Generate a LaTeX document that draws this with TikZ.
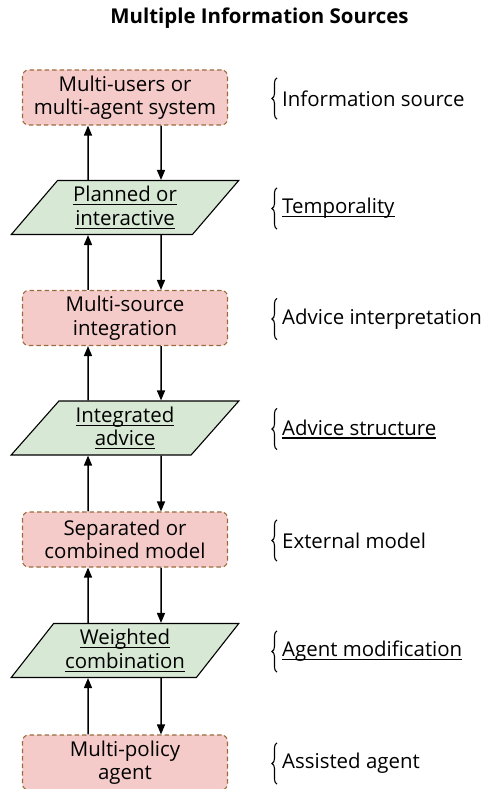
\documentclass[tikz,border=0pt]{standalone}
\usepackage{fontspec}
\setmainfont{Open Sans}
\usepackage{tikz}
\usetikzlibrary{arrows.meta,shapes.geometric,decorations.pathreplacing}

\definecolor{boxfill}{HTML}{F5CBCA}
\definecolor{boxline}{HTML}{9C6A3C}
\definecolor{parafill}{HTML}{D7E8D4}

% underline close to the baseline
\newcommand\ulx[1]{\setbox0\hbox{#1}\rlap{\rule[-3.5bp]{\wd0}{1.2bp}}\box0}

\tikzset{
  sourcebox/.style={draw=boxline, fill=boxfill, dashed, dash pattern=on 4.5bp off 3bp,
    rounded corners=6bp, minimum width=205bp, minimum height=55bp, align=center,
    line width=1.1bp, inner sep=0pt, font=\fontsize{20.5}{23.5}\selectfont},
  parabox/.style={draw, fill=parafill, trapezium, trapezium left angle=50,
    trapezium right angle=130, trapezium stretches=true, minimum width=228bp,
    minimum height=54bp, align=center, line width=1.1bp, inner sep=0pt,
    font=\fontsize{20.5}{23.5}\selectfont},
  sidelabel/.style={anchor=west, inner xsep=5bp, inner ysep=0pt, minimum height=41bp,
    font=\fontsize{20.5}{23.5}\selectfont},
  bracket/.style={decorate, decoration={brace, amplitude=5bp}, line width=1.1bp},
  flow/.style={-{Triangle[length=10bp,width=8bp]}, line width=1.5bp}
}

\begin{document}
\begin{tikzpicture}[x=1bp, y=-1bp]

\useasboundingbox (0,0) rectangle (487,789);

\node (title) at (259.5,18) {\fontsize{20.5}{23.5}\selectfont\bfseries Multiple Information Sources};

% boxes and parallelograms
\node[sourcebox] (b1) at (125,97.5) {Multi-users or\\multi-agent system};
\node[parabox]   (p1) at (125,207.5) {\ulx{Planned or}\\\ulx{interactive}};
\node[sourcebox] (b2) at (125,318) {Multi-source\\integration};
\node[parabox]   (p2) at (125,428) {\ulx{Integrated}\\\ulx{advice}};
\node[sourcebox] (b3) at (125,539.5) {Separated or\\combined model};
\node[parabox]   (p3) at (125,650.5) {\ulx{Weighted}\\\ulx{combination}};
\node[sourcebox] (b4) at (125,762.5) {Multi-policy\\agent};

% side labels
\node[sidelabel] (l1) at (277,98.5) {Information source};
\node[sidelabel] (l2) at (277,208.5) {\ulx{Temporality}};
\node[sidelabel] (l3) at (277,319) {Advice interpretation};
\node[sidelabel] (l4) at (277,429) {\ulx{Advice structure}};
\node[sidelabel] (l5) at (277,540.5) {External model};
\node[sidelabel] (l6) at (277,651.5) {\ulx{Agent modification}};
\node[sidelabel] (l7) at (277,763.5) {Assisted agent};

\foreach \i in {1,...,7}
    \draw[bracket] (l\i.south west) -- (l\i.north west);

% arrows up and down
\foreach \a/\b in {b1/p1,b2/p2,b3/p3}
{
    \draw[flow] ([xshift=-37bp]\b.north) -- ([xshift=-37bp]\a.south);
    \draw[flow] ([xshift=36bp]\a.south) -- ([xshift=36bp]\b.north);
}
\foreach \a/\b in {p1/b2,p2/b3,p3/b4}
{
    \draw[flow] ([xshift=-37bp]\b.north) -- ([xshift=-37bp]\a.south);
    \draw[flow] ([xshift=36bp]\a.south) -- ([xshift=36bp]\b.north);
}

\end{tikzpicture}
\end{document}
